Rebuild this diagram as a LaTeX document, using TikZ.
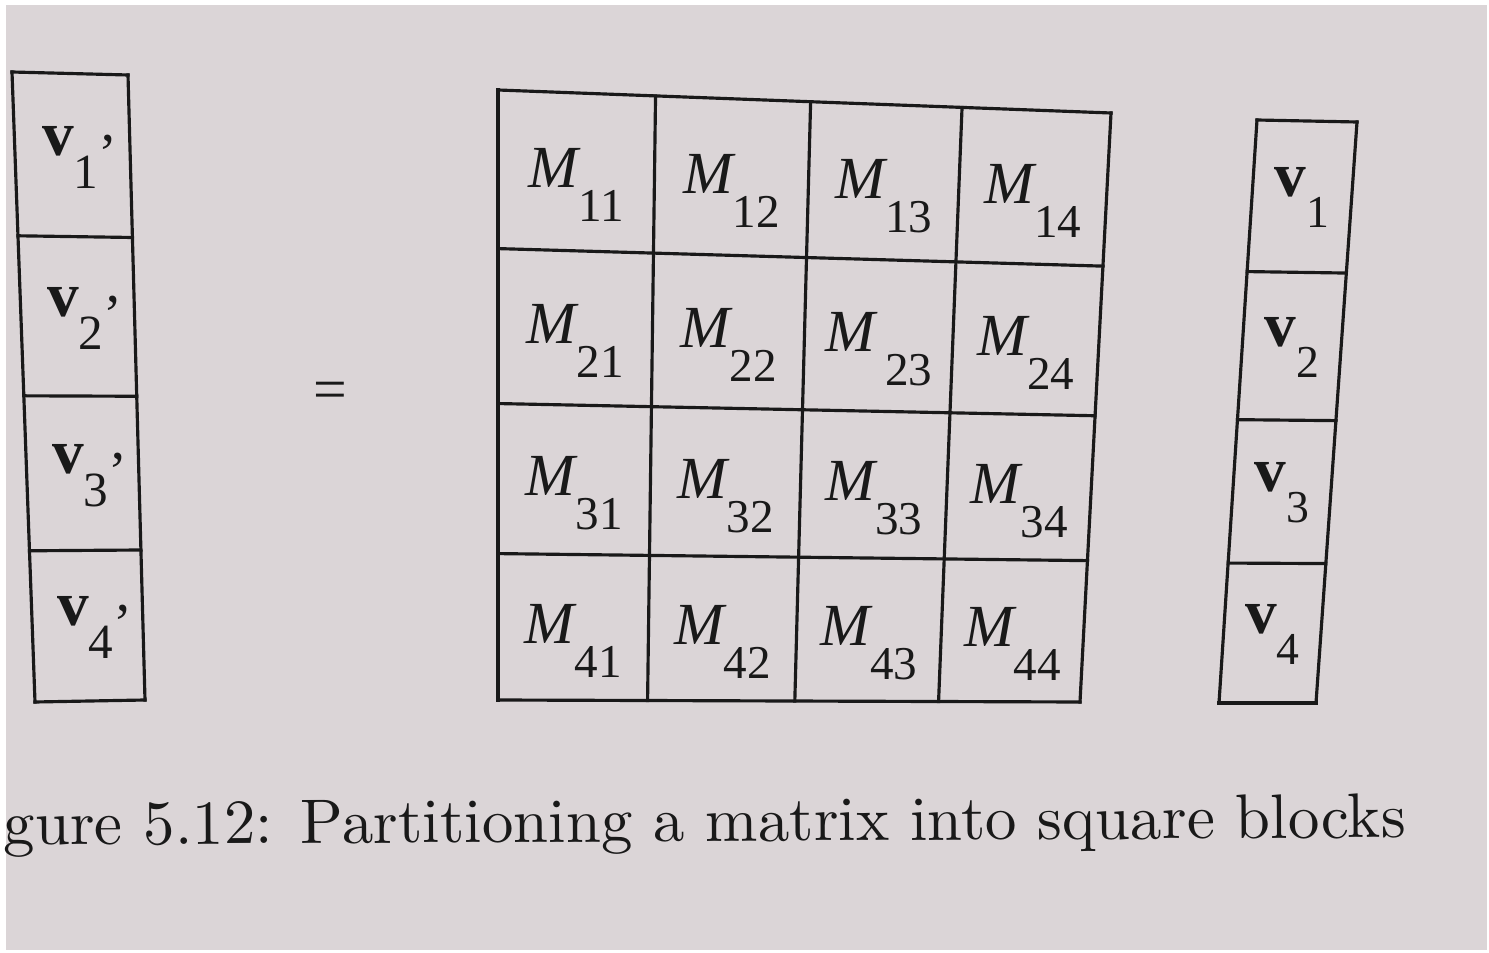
\documentclass[tikz,border=0pt]{standalone}
\usepackage{fontspec}
\usetikzlibrary{calc,positioning}
\IfFontExistsTF{LiberationSerif-Regular.ttf}
  {\newfontfamily\tms{LiberationSerif}[Extension=.ttf, UprightFont=*-Regular, BoldFont=*-Bold, ItalicFont=*-Italic, BoldItalicFont=*-BoldItalic]}
  {\newfontfamily\tms{Liberation Serif}}
\newfontfamily\capfont{lmroman10-regular}[Extension=.otf]
\definecolor{paper}{RGB}{219,213,215}
\definecolor{ink}{RGB}{25,25,25}
% block labels
\newcommand{\mblk}[1]{{\tms\fontsize{17}{17}\selectfont\itshape M}\ifnum#1=23 \kern0.1cm\fi\raisebox{-0.34cm}{\tms\fontsize{13.4}{13.4}\selectfont #1}}
\newcommand{\vblk}[1]{{\tms\fontsize{18}{18}\selectfont\bfseries v}\raisebox{-0.31cm}{\tms\fontsize{13}{13}\selectfont #1}}
\newcommand{\vpblk}[1]{{\tms\fontsize{18}{18}\selectfont\bfseries v}\raisebox{-0.33cm}{\tms\fontsize{14}{14}\selectfont #1}\raisebox{-0.17cm}{\tms\fontsize{16}{16}\selectfont ’}}

\begin{document}
\begin{tikzpicture}[
    gridline/.style={draw=ink, line width=0.9pt, line cap=rect},
    lbl/.style={inner sep=0pt, text=ink, anchor=base},
    mlbl/.style={lbl, yshift=-0.16cm},
    captxt/.style={inner sep=0pt, text=ink, anchor=base west, font=\capfont\fontsize{17.9}{20}\selectfont}
]
\useasboundingbox (0,0) rectangle (14.89,-9.53);
\clip (0,0) rectangle (14.89,-9.53);
\fill[white] (0,0) rectangle (14.89,-9.53);
\fill[paper] (0.06,-0.05) rectangle (14.87,-9.50);

% corners of the three blocks (photo is a bit skewed)
\coordinate (lTL) at (0.12,-0.72);  \coordinate (lTR) at (1.28,-0.75);
\coordinate (lBL) at (0.35,-7.02);  \coordinate (lBR) at (1.45,-7.00);
\coordinate (mTL) at (4.98,-0.90);  \coordinate (mTR) at (11.11,-1.13);
\coordinate (mBL) at (4.98,-7.00);  \coordinate (mBR) at (10.80,-7.02);
\coordinate (rTL) at (12.57,-1.20); \coordinate (rTR) at (13.57,-1.22);
\coordinate (rBL) at (12.19,-7.03); \coordinate (rBR) at (13.16,-7.03);

% matrix grid
\foreach \u in {0,0.257,0.51,0.757,1}
  \draw[gridline] ($(mTL)!\u!(mTR)$) -- ($(mBL)!\u!(mBR)$);
\foreach \v in {0,0.26,0.514,0.76,1} {
  \draw[gridline] ($(mTL)!\v!(mBL)$) -- ($(mTR)!\v!(mBR)$);
  \draw[gridline] ($(lTL)!\v!(lBL)$) -- ($(lTR)!\v!(lBR)$);
  \draw[gridline] ($(rTL)!\v!(rBL)$) -- ($(rTR)!\v!(rBR)$);
}
\draw[gridline] (lTL) -- (lBL) (lTR) -- (lBR);
\draw[gridline] (rTL) -- (rBL) (rTR) -- (rBR);

% labels
\foreach \r/\vc in {1/0.13,2/0.387,3/0.637,4/0.88} {
  \coordinate (mL) at ($(mTL)!\vc!(mBL)$);
  \coordinate (mR) at ($(mTR)!\vc!(mBR)$);
  \foreach \c/\uc in {1/0.1285,2/0.3835,3/0.6335,4/0.8785}
    \node[mlbl] (m\r\c) at ($(mL)!\uc!(mR)$) {\mblk{\r\c}};
  \node[lbl, xshift=0.07cm] (vp\r) at ($($(lTL)!\vc!(lBL)$)!0.5!($(lTR)!\vc!(lBR)$)$) {\vpblk{\r}};
  \node[lbl] (v\r) at ($($(rTL)!\vc!(rBL)$)!0.5!($(rTR)!\vc!(rBR)$)$) {\vblk{\r}};
}
\node[inner sep=0pt, text=ink, font=\tms\fontsize{17}{17}\selectfont] (eq) at (3.30,-3.96) {=};

\node[captxt, rotate=0.3] (caption) at (0.03,-8.45) {gure 5.12: Partitioning a matrix into square blocks};
\end{tikzpicture}
\end{document}
